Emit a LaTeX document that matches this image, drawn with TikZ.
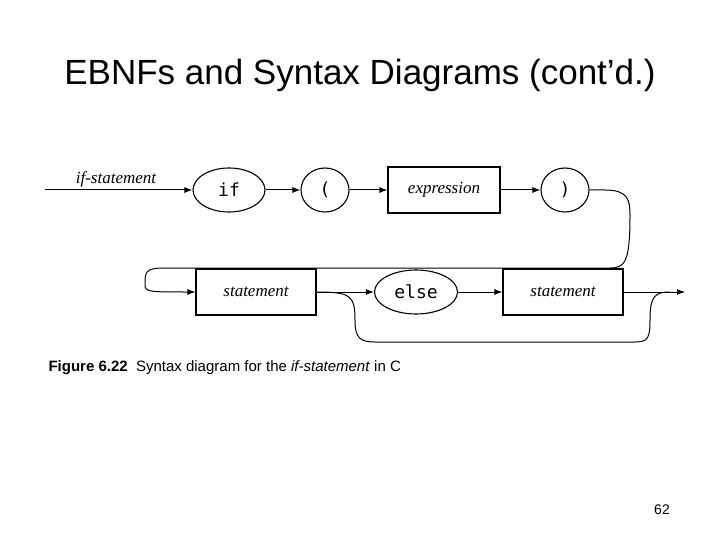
\documentclass[tikz,border=0pt]{standalone}
\usepackage{fontspec}
\setmainfont{Liberation Sans}
\newfontfamily\diagserif{Liberation Serif}
\newfontfamily\diagmono{DejaVu Sans Mono}
\usetikzlibrary{arrows.meta,shapes.geometric}
\begin{document}
\begin{tikzpicture}[x=1pt,y=-1pt,
  term/.style={ellipse,draw,line width=1.1pt,minimum height=44pt,inner sep=1pt,font=\diagmono\fontsize{18}{18}\selectfont},
  nonterm/.style={rectangle,draw,line width=1.1pt,minimum height=46pt,font=\diagserif\itshape\fontsize{17}{17}\selectfont},
  conn/.style={line width=1pt,-{Latex[length=8pt,width=6pt]}},
  line/.style={line width=1pt}]
\useasboundingbox (0,0) rectangle (720,540);
\node (title) at (360,75) {\fontsize{35}{35}\selectfont EBNFs and Syntax Diagrams (cont’d.)};
\coordinate (start) at (45,190);
\node[font=\diagserif\itshape\fontsize{17}{17}\selectfont] (lbl) at (116,179) {if-statement};
\node[term,minimum width=72pt] (if) at (229,190) {if};
\node[term,minimum width=48pt] (lp) at (325,190) {(};
\node[nonterm,minimum width=112pt] (expr) at (444,190) {expression};
\node[term,minimum width=48pt] (rp) at (565,190) {)};
\node[nonterm,minimum width=120pt] (st1) at (256,292) {statement};
\node[term,minimum width=83pt] (else) at (416,292) {else};
\node[nonterm,minimum width=120pt] (st2) at (563,292) {statement};
\coordinate (end) at (685,292);
\draw[conn] (start) -- (if);
\draw[conn] (if) -- (lp);
\draw[conn] (lp) -- (expr);
\draw[conn] (expr) -- (rp);
\draw[conn] (rp.east) -- (605,190)
  .. controls (628,190) and (630,200) .. (630,215)
  .. controls (630,262) and (625,268) .. (610,268) -- (165,268)
  .. controls (145,268) and (145,272) .. (145,285)
  .. controls (145,292) and (150,292) .. (st1.west);
\draw[conn] (st1) -- (else);
\draw[conn] (else) -- (st2);
\draw[conn] (st2) -- (end);
\draw[line] (st1.east) .. controls (350,292) and (355,295) .. (355,320)
  .. controls (355,338) and (360,342) .. (375,342) -- (635,342)
  .. controls (648,342) and (650,338) .. (650,320)
  .. controls (650,296) and (655,292) .. (670,292);
\node[anchor=west,font=\fontsize{15}{15}\selectfont] (cap) at (45,368) {\textbf{Figure 6.22}\ \ Syntax diagram for the \textit{if-statement} in C};
\node (num) at (662,510) {\fontsize{14}{14}\selectfont 62};
\end{tikzpicture}
\end{document}
